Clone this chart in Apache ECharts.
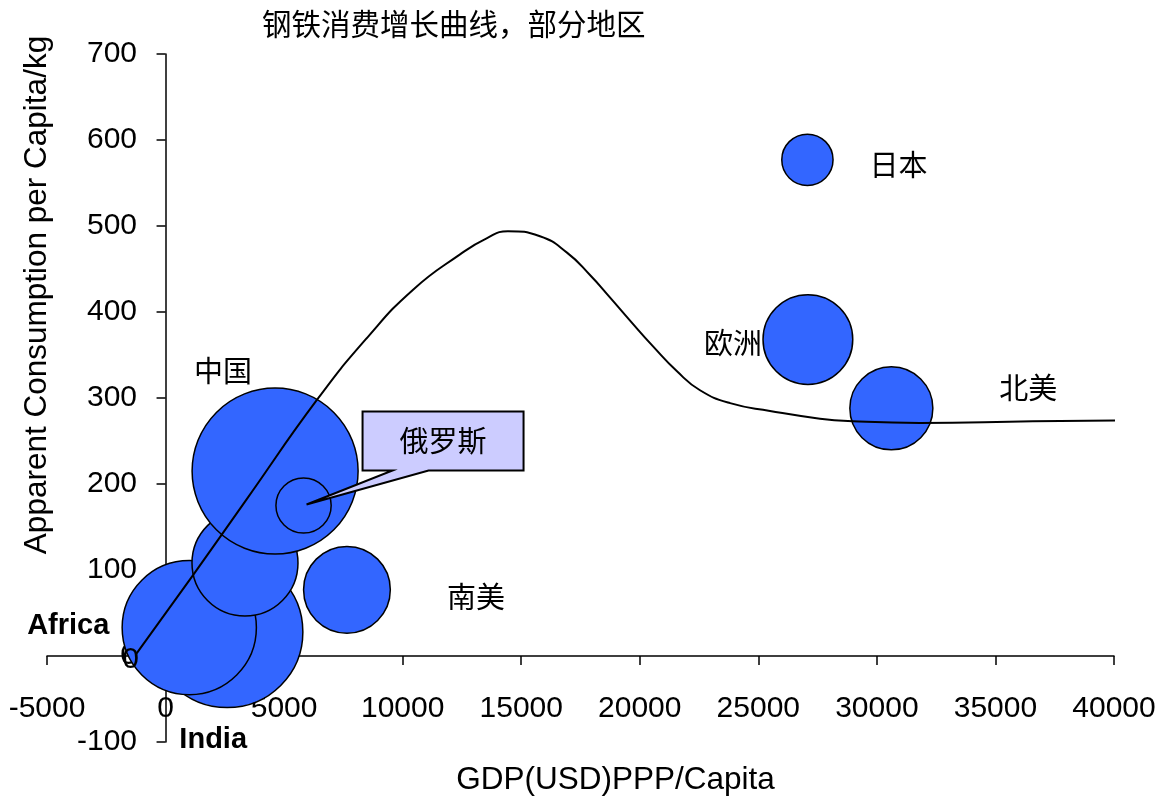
<!DOCTYPE html>
<html>
<head>
<meta charset="utf-8">
<script src="https://cdn.jsdelivr.net/npm/echarts@6/dist/echarts.min.js"></script>
<style>
  html, body { margin: 0; padding: 0; background: #fff; }
  #chart { width: 1164px; height: 797px; }
</style>
</head>
<body>
<div id="chart"></div>
<script>
// Regions: GDP per capita (PPP, USD), apparent steel consumption per capita (kg), population (millions)
const regions        = ['印度', '非洲', '其他亚洲', '中国', '俄罗斯', '南美', '欧洲', '日本', '北美'];
const regionLabels   = ['India', 'Africa', '', '中国', '俄罗斯', '南美', '欧洲', '日本', '北美'];
const gdpPerCapita   = [2600, 1000, 3350, 4620, 5820, 7650, 27090, 27070, 30610];
const steelPerCapita = [28, 33, 108, 215, 175, 77, 368, 577, 288];
const population     = [1080, 850, 530, 1300, 144, 355, 380, 124, 325];

// Typical steel-intensity curve against income
const curveGdp   = [-1220, 1160, 3440, 6390, 8500, 10440, 12420, 13560, 14440, 15790, 16930,
                    17900, 18740, 19590, 20560, 21570, 22540, 23810, 25490, 27600, 28990, 31810, 36580, 40250];
const curveSteel = [3, 94, 183, 298, 370, 426, 467, 486, 494, 488, 469,
                    443, 417, 390, 360, 331, 309, 294, 285, 276, 273, 271, 273, 274];
const curveStartLabel = '0';

const chartTitle = '钢铁消费增长曲线，部分地区';
const xAxisName = 'GDP(USD)PPP/Capita';
const yAxisName = 'Apparent Consumption per Capita/kg';
const calloutRegion = '俄罗斯';

// ---- presentation ----
const LATIN = '"Liberation Sans", Arial, sans-serif';
const CJK = '"Noto Sans CJK SC", "Liberation Sans", sans-serif';
const BUBBLE_FILL = '#3366FF';
const MAX_DIAMETER = 166;
const maxPop = Math.max.apply(null, population);

// label placement relative to each bubble centre
const labelOffsets = {
  'India': [-14, 108], 'Africa': [-121, -2], '中国': [-52, -100], '南美': [129, 7],
  '欧洲': [-75, 3], '日本': [91, 5], '北美': [137, -20]
};
const boldLabels = { 'India': true, 'Africa': true };

const bubbleData = regions.map(function (name, i) {
  const text = regionLabels[i];
  const off = labelOffsets[text];
  return {
    name: name,
    value: [gdpPerCapita[i], steelPerCapita[i], population[i]],
    label: off ? {
      show: true,
      formatter: text,
      position: 'inside',
      offset: off,
      align: 'center',
      verticalAlign: 'middle',
      color: '#000',
      fontSize: 29,
      fontWeight: boldLabels[text] ? 'bold' : 'normal',
      fontFamily: boldLabels[text] ? LATIN : CJK
    } : { show: false }
  };
});

const curveData = curveGdp.map(function (x, i) {
  const item = { value: [x, curveSteel[i]] };
  if (i === 0) {
    item.label = {
      show: true, formatter: curveStartLabel, position: 'inside', offset: [-6, 6],
      color: '#000', fontSize: 30, fontFamily: LATIN
    };
  }
  return item;
});

const axisLineStyle = { color: '#000', width: 1.5 };
const plainNumber = function (v) { return String(v); };

const chart = echarts.init(document.getElementById('chart'), null, { renderer: 'canvas' });
chart.setOption({
  animation: false,
  backgroundColor: '#fff',
  title: {
    text: chartTitle,
    left: 262, top: 9, padding: 0,
    textStyle: { fontSize: 29.5, fontWeight: 'normal', color: '#000', fontFamily: CJK }
  },
  grid: { left: 47, right: 50, top: 54, bottom: 55, containLabel: false, outerBoundsMode: 'none' },
  xAxis: {
    type: 'value', min: -5000, max: 40000, interval: 5000,
    name: xAxisName, nameLocation: 'middle', nameGap: 22,
    nameTextStyle: { fontSize: 31.5, color: '#000', fontFamily: LATIN, padding: [0, 0, 0, 70] },
    axisLine: { onZero: true, lineStyle: axisLineStyle },
    axisTick: { show: true, length: 9, lineStyle: axisLineStyle },
    axisLabel: { fontSize: 30, color: '#000', fontFamily: LATIN, margin: -48, formatter: plainNumber },
    splitLine: { show: false }
  },
  yAxis: {
    type: 'value', min: -100, max: 700, interval: 100,
    name: yAxisName, nameLocation: 'middle', nameGap: -6, nameRotate: 90,
    nameTextStyle: { fontSize: 31.5, color: '#000', fontFamily: LATIN, padding: [0, 0, 0, 206] },
    axisLine: { onZero: true, lineStyle: axisLineStyle },
    axisTick: { show: true, length: 9, lineStyle: axisLineStyle },
    axisLabel: { fontSize: 30, color: '#000', fontFamily: LATIN, margin: -90, formatter: plainNumber },
    splitLine: { show: false }
  },
  series: [
    {
      type: 'scatter',
      name: 'regions',
      silent: true,
      z: 2,
      data: bubbleData,
      symbol: 'circle',
      symbolSize: function (val) { return MAX_DIAMETER * Math.sqrt(val[2] / maxPop); },
      itemStyle: { color: BUBBLE_FILL, borderColor: '#000', borderWidth: 1.5, opacity: 1 },
      emphasis: { disabled: true }
    },
    {
      type: 'line',
      name: 'curve',
      silent: true,
      z: 3,
      clip: false,
      smooth: 0.5,
      data: curveData,
      showSymbol: true,
      symbol: 'circle',
      symbolSize: 0,
      itemStyle: { color: '#000' },
      lineStyle: { color: '#000', width: 2 },
      label: { show: false },
      emphasis: { disabled: true }
    }
  ]
});

// Callout box pointing at one region's bubble
(function drawCallout() {
  const ri = regions.indexOf(calloutRegion);
  const p = chart.convertToPixel({ gridIndex: 0 }, [gdpPerCapita[ri], steelPerCapita[ri]]);
  const L = p[0] + 59, T = p[1] - 94, W = 161, H = 59, B = T + H;
  chart.setOption({
    graphic: [
      {
        type: 'polygon', z: 100, silent: true,
        shape: { points: [[L, T], [L + W, T], [L + W, B], [L + 66, B], [p[0] + 3, p[1] - 1], [L + 30, B], [L, B]] },
        style: { fill: '#CCCCFF', stroke: '#000', lineWidth: 2, lineJoin: 'miter' }
      },
      {
        type: 'text', z: 101, silent: true,
        x: L + W / 2, y: T + H / 2,
        style: {
          text: calloutRegion, align: 'center', verticalAlign: 'middle',
          fontSize: 29, fontFamily: CJK, fill: '#000'
        }
      }
    ]
  });
})();
</script>
</body>
</html>
